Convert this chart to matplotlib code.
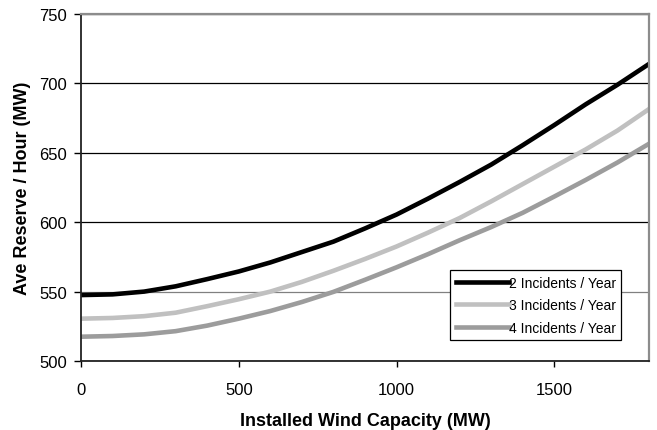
import numpy as np
from matplotlib import pyplot as plt

# Installed wind capacity (MW)
capacity = [0, 100, 200, 300, 400, 500, 600, 700, 800, 900,
            1000, 1100, 1200, 1300, 1400, 1500, 1600, 1700, 1800]
# Ave reserve / hour (MW)
reserve2 = [547.5, 548.0, 550.0, 553.8, 559.0, 564.5, 571.0, 578.5, 586.0, 595.5,
            605.5, 617.0, 629.0, 641.5, 655.5, 670.0, 685.0, 699.0, 714.0]
reserve3 = [530.5, 531.0, 532.3, 534.8, 539.5, 544.5, 550.0, 557.0, 565.0, 573.5,
            582.5, 592.5, 603.0, 615.0, 627.5, 640.0, 652.5, 666.0, 681.5]
reserve4 = [517.5, 518.0, 519.2, 521.5, 525.5, 530.5, 536.0, 542.5, 549.8, 558.5,
            567.5, 577.0, 587.0, 596.5, 606.8, 618.5, 630.5, 643.0, 656.5]
labels = ["2 Incidents / Year", "3 Incidents / Year", "4 Incidents / Year"]
xTicks = [0, 500, 1000, 1500]
yTicks = [500, 550, 600, 650, 700, 750]


def main():
    plt.rcParams['font.family'] = ['Liberation Sans', 'DejaVu Sans']
    fig = plt.figure(figsize=(6.57, 4.31), dpi=100)
    ax = fig.add_axes([0.1233, 0.1601, 0.8645, 0.8051])

    # Curves
    ax.plot(capacity, reserve2, color="black", lw=3.3, label=labels[0],
            solid_joinstyle='round')
    ax.plot(capacity, reserve3, color="#c0c0c0", lw=3.3, label=labels[1],
            solid_joinstyle='round')
    ax.plot(capacity, reserve4, color="#9c9c9c", lw=3.3, label=labels[2],
            solid_joinstyle='round')

    ax.set_xlim(0, 1800)
    ax.set_ylim(500, 750)
    ax.set_xticks(xTicks)
    ax.set_yticks(yTicks)

    # Horizontal grid, black except the 550 line which looks gray
    ax.grid(axis='y', color="black", lw=0.9)
    ax.set_axisbelow(True)
    ax.get_ygridlines()[1].set_color("#808080")

    ax.tick_params(axis='x', direction='out', length=4, width=1, pad=11,
                   labelsize=12)
    ax.tick_params(axis='y', direction='out', length=5, width=1, pad=5,
                   labelsize=12)

    for side in ['left', 'bottom']:
        ax.spines[side].set_color("#222222")
        ax.spines[side].set_linewidth(1.3)
    for side in ['top', 'right']:
        ax.spines[side].set_color("#8c8c8c")
        ax.spines[side].set_linewidth(1.6)

    ax.set_xlabel("Installed Wind Capacity (MW)", fontsize=13, fontweight='bold',
                  labelpad=11)
    ax.set_ylabel("Ave Reserve / Hour (MW)", fontsize=13, fontweight='bold',
                  labelpad=6)

    leg = ax.legend(loc='lower left', bbox_to_anchor=(0.65, 0.06), fontsize=10,
                    frameon=True, fancybox=False, handlelength=3.8,
                    handletextpad=0.0, borderpad=0.4, labelspacing=0.6,
                    borderaxespad=0.0)
    leg.get_frame().set_edgecolor("black")
    leg.get_frame().set_linewidth(0.9)
    leg.get_frame().set_alpha(1.0)

    fig.savefig("out.png", dpi=100)


if __name__ == "__main__":
    main()
